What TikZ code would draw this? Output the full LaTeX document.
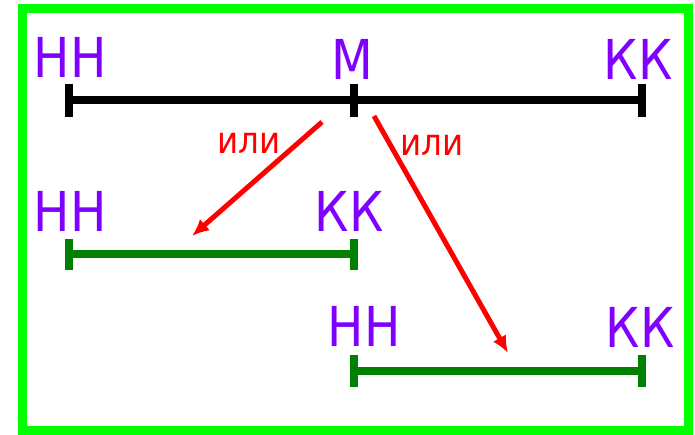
\documentclass[tikz,border=0pt]{standalone}
\usepackage{fontspec}
\setmainfont{DejaVu Sans}
\usetikzlibrary{arrows.meta}

\definecolor{labelviolet}{RGB}{128,0,255}
\definecolor{framegreen}{RGB}{0,255,0}
\definecolor{bargreen}{RGB}{0,128,0}
\newcommand{\seglabel}[1]{\scalebox{0.88}[1]{#1}}

\begin{document}
\begin{tikzpicture}[
    x=1pt, y=-1pt,
    endlabel/.style={text=labelviolet, inner sep=0pt, anchor=base, font=\fontsize{55}{58}\selectfont},
    orlabel/.style={text=red, inner sep=0pt, anchor=base, font=\fontsize{37}{40}\selectfont},
    topbar/.style={draw=black, line width=8pt},
    optbar/.style={draw=bargreen, line width=8pt},
    choice/.style={draw=red, line width=5pt, -{Latex[length=17pt,width=15pt]}}
]
    \useasboundingbox (0,0) rectangle (695,434);
    \draw[framegreen, line width=9pt] (22,8) rectangle (688,430);

    % whole segment
    \coordinate (mainL) at (69,100);
    \coordinate (mainM) at (354,100);
    \coordinate (mainR) at (642,100);
    \draw[topbar] (mainL) -- (mainR);
    \foreach \c in {mainL,mainM,mainR}
        \draw[topbar] ([yshift=16.5pt]\c) -- ([yshift=-16.5pt]\c);
    \node (mainNN) [endlabel] at (70,77) {\seglabel{НН}};
    \node (mainMM) [endlabel] at (352,79) {\seglabel{М}};
    \node (mainKK) [endlabel] at (638,79) {\seglabel{КК}};

    % left half
    \coordinate (leftL) at (69,254);
    \coordinate (leftR) at (354,254);
    \draw[optbar] (leftL) -- (leftR);
    \foreach \c in {leftL,leftR}
        \draw[optbar] ([yshift=15.5pt]\c) -- ([yshift=-15.5pt]\c);
    \node (leftNN) [endlabel] at (70,231) {\seglabel{НН}};
    \node (leftKK) [endlabel] at (349,231) {\seglabel{КК}};

    % right half
    \coordinate (rightL) at (354,371);
    \coordinate (rightR) at (642,371);
    \draw[optbar] (rightL) -- (rightR);
    \foreach \c in {rightL,rightR}
        \draw[optbar] ([yshift=16pt]\c) -- ([yshift=-16pt]\c);
    \node (rightNN) [endlabel] at (364,346) {\seglabel{НН}};
    \node (rightKK) [endlabel] at (640,347) {\seglabel{КК}};

    % choices
    \coordinate (toLeftFrom) at (322,122);
    \coordinate (toLeftTip) at (192,236);
    \coordinate (toRightFrom) at (374,116);
    \coordinate (toRightTip) at (508,353);
    \draw[choice] (toLeftFrom) -- (toLeftTip);
    \draw[choice] (toRightFrom) -- (toRightTip);
    \node (orLeft) [orlabel] at (249,153) {\seglabel{или}};
    \node (orRight) [orlabel] at (432,155) {\seglabel{или}};
\end{tikzpicture}
\end{document}
